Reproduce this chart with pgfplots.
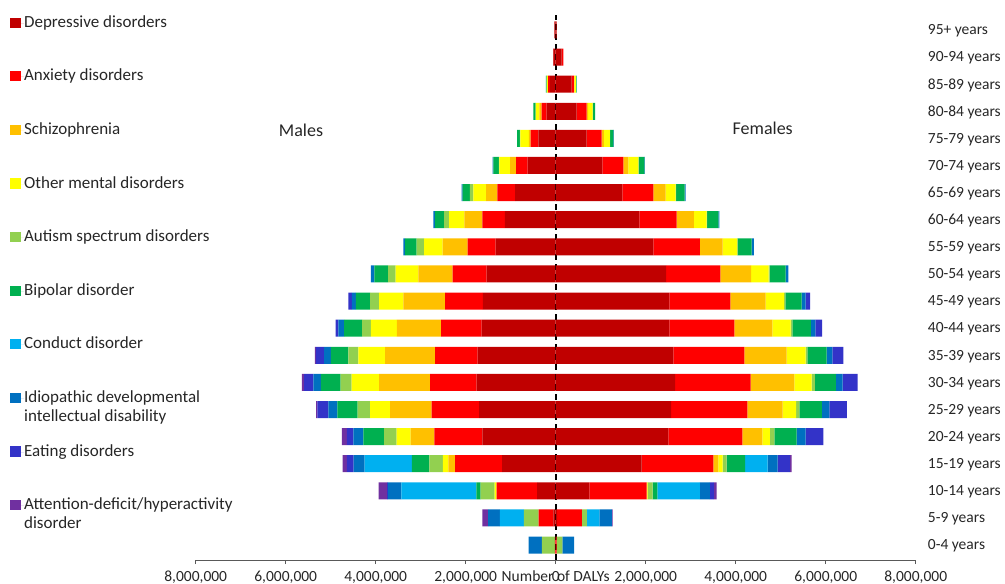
\documentclass[border=0pt]{standalone}
\usepackage{pgfplots}
\usepackage{pgfplotstable}
\pgfplotsset{compat=1.18}
\usepackage{fontspec}
\setmainfont{Carlito}

\definecolor{cdep}{HTML}{C00000}
\definecolor{canx}{HTML}{FF0000}
\definecolor{csch}{HTML}{FFC000}
\definecolor{coth}{HTML}{FFFF00}
\definecolor{caut}{HTML}{92D050}
\definecolor{cbip}{HTML}{00B050}
\definecolor{ccon}{HTML}{00B0F0}
\definecolor{cidi}{HTML}{0070C0}
\definecolor{ceat}{HTML}{3333C8}
\definecolor{cadh}{HTML}{7030A0}

% values in millions of DALYs (males negative)
\pgfplotstableread{
y dep anx sch oth aut bip con idi eat adhd
0 0 -0.02 0 0 -0.29 0 0 -0.29 0 0
1 -0.05 -0.33 0 0 -0.33 0 -0.53 -0.26 0 -0.13
2 -0.415 -0.896 -0.01 -0.037 -0.311 -0.096 -1.667 -0.296 -0.02 -0.185
3 -1.193 -1.044 -0.148 -0.124 -0.296 -0.39 -1.052 -0.244 -0.148 -0.096
4 -1.631 -1.067 -0.524 -0.311 -0.281 -0.459 0 -0.222 -0.148 -0.111
5 -1.704 -1.052 -0.926 -0.444 -0.274 -0.452 0 -0.2 -0.244 -0.03
6 -1.756 -1.037 -1.133 -0.607 -0.244 -0.444 0 -0.164 -0.207 -0.05
7 -1.733 -0.948 -1.111 -0.593 -0.222 -0.39 0 -0.148 -0.185 -0.02
8 -1.644 -0.904 -0.984 -0.578 -0.193 -0.4 0 -0.127 -0.058 0
9 -1.62 -0.838 -0.926 -0.54 -0.2 -0.318 0 -0.09 -0.074 0
10 -1.533 -0.756 -0.764 -0.502 -0.171 -0.304 0 -0.08 0 0
11 -1.333 -0.622 -0.556 -0.415 -0.163 -0.259 0 -0.037 0 0
12 -1.127 -0.504 -0.4 -0.34 -0.111 -0.2 0 -0.037 0 0
13 -0.904 -0.393 -0.252 -0.282 -0.074 -0.163 0 -0.022 0 0
14 -0.622 -0.26 -0.133 -0.238 -0.01 -0.123 0 -0.015 0 0
15 -0.387 -0.17 -0.04 -0.19 -0.01 -0.06 0 0 0 0
16 -0.2 -0.111 -0.053 -0.074 -0.01 -0.05 0 0 0 0
17 -0.127 -0.04 -0.005 -0.02 -0.01 -0.015 0 0 0 0
18 -0.05 -0.01 0 0 0 0 0 0 0 0
19 -0.03 0 0 0 0 0 0 0 0 0
}\males

\pgfplotstableread{
y dep anx sch oth aut bip con idi eat adhd
0 0 0.02 0 0 0.13 0 0 0.26 0 0
1 0.03 0.55 0 0 0.111 0 0.28 0.276 0 0.02
2 0.747 1.276 0.01 0.01 0.113 0.102 0.948 0.222 0.089 0.06
3 1.911 1.591 0.111 0.098 0.089 0.407 0.504 0.222 0.273 0.038
4 2.502 1.644 0.444 0.171 0.096 0.498 0 0.2 0.391 0
5 2.562 1.696 0.787 0.296 0.074 0.498 0 0.169 0.387 0
6 2.651 1.681 0.969 0.387 0.073 0.467 0 0.148 0.333 0
7 2.613 1.578 0.942 0.422 0.036 0.431 0 0.124 0.244 0
8 2.524 1.444 0.844 0.409 0.04 0.407 0 0.102 0.148 0
9 2.524 1.356 0.787 0.407 0.03 0.363 0 0.089 0.096 0
10 2.451 1.207 0.682 0.393 0.02 0.358 0 0.058 0 0
11 2.169 1.037 0.504 0.324 0.01 0.31 0 0.051 0 0
12 1.858 0.831 0.384 0.282 0.01 0.248 0 0.022 0 0
13 1.48 0.689 0.276 0.222 0.01 0.19 0 0.022 0 0
14 1.036 0.467 0.111 0.222 0.005 0.128 0 0.015 0 0
15 0.689 0.333 0.051 0.133 0.005 0.073 0 0.01 0 0
16 0.467 0.222 0.03 0.1 0.005 0.05 0 0 0 0
17 0.356 0.05 0.01 0.03 0 0.02 0 0 0 0
18 0.13 0.04 0 0 0 0 0 0 0 0
19 0.02 0 0 0 0 0 0 0 0 0
}\females

\pgfplotsset{
  pyr/.style={
    at={(195.7bp,24bp)}, anchor=south west,
    scale only axis, width=720bp, height=545bp,
    xmin=-8, xmax=8, ymin=-0.55, ymax=19.55,
    xbar stacked, bar width=17bp,
    every axis plot post/.append style={draw=none,
      legend image code/.code={\fill[##1] (0bp,-4.5bp) rectangle (10.5bp,5.5bp); \path (0bp,0bp) -- (14bp,0bp);}},
  },
}

\begin{document}
\begin{tikzpicture}
\useasboundingbox (0,0) rectangle (1005bp,584bp);
\begin{axis}[pyr,
  axis x line*=bottom, axis y line*=right,
  x axis line style={-, black!65, line width=0.8bp},
  y axis line style={draw=none},
  tick align=outside, major tick length=4bp,
  xtick style={black!65, line width=0.8bp},
  ytick style={draw=none},
  scaled x ticks=false,
  xtick={-8,-6,-4,-2,0,2,4,6,8},
  xticklabels={{8,000,000},{6,000,000},{4,000,000},{2,000,000},0,{2,000,000},{4,000,000},{6,000,000},{8,000,000}},
  ytick={0,...,19},
  yticklabels={0-4 years,5-9 years,10-14 years,15-19 years,20-24 years,25-29 years,30-34 years,35-39 years,40-44 years,45-49 years,50-54 years,55-59 years,60-64 years,65-69 years,70-74 years,75-79 years,80-84 years,85-89 years,90-94 years,95+ years},
  ticklabel style={font=\fontsize{15.5bp}{18bp}\selectfont, text=black!85},
  yticklabel style={anchor=west, inner sep=0pt, xshift=8bp, yshift=-1bp},
  xticklabel style={anchor=base, inner sep=0pt, yshift=-17bp},
  xlabel={Number of DALYs},
  xlabel style={at={(axis description cs:0.5,0)}, anchor=base, inner sep=0pt, yshift=-21.5bp,
    font=\fontsize{15.5bp}{18bp}\selectfont, text=black!85},
  legend cell align=left,
  legend style={at={(axis description cs:-0.258,1.0)}, anchor=north west,
    draw=none, fill=none, inner sep=0pt, row sep=37.6bp,
    font=\fontsize{17bp}{19bp}\selectfont, text=black!85,
    nodes={text height=12bp, text depth=4bp, inner sep=0pt}},
]
\addplot[fill=cdep] table[x=dep,y=y] {\males}; \addlegendentry{Depressive disorders}
\addplot[fill=canx] table[x=anx,y=y] {\males}; \addlegendentry{Anxiety disorders}
\addplot[fill=csch] table[x=sch,y=y] {\males}; \addlegendentry{Schizophrenia}
\addplot[fill=coth] table[x=oth,y=y] {\males}; \addlegendentry{Other mental disorders}
\addplot[fill=caut] table[x=aut,y=y] {\males}; \addlegendentry{Autism spectrum disorders}
\addplot[fill=cbip] table[x=bip,y=y] {\males}; \addlegendentry{Bipolar disorder}
\addplot[fill=ccon] table[x=con,y=y] {\males}; \addlegendentry{Conduct disorder}
\addplot[fill=cidi] table[x=idi,y=y] {\males}; \addlegendentry{\begin{tabular}[t]{@{}l@{}}Idiopathic developmental\\intellectual disability\end{tabular}}
\addplot[fill=ceat] table[x=eat,y=y] {\males}; \addlegendentry{Eating disorders}
\addplot[fill=cadh] table[x=adhd,y=y] {\males}; \addlegendentry{\begin{tabular}[t]{@{}l@{}}Attention-deficit/hyperactivity\\disorder\end{tabular}}
\end{axis}
\begin{axis}[pyr, hide axis]
\addplot[fill=cdep] table[x=dep,y=y] {\females};
\addplot[fill=canx] table[x=anx,y=y] {\females};
\addplot[fill=csch] table[x=sch,y=y] {\females};
\addplot[fill=coth] table[x=oth,y=y] {\females};
\addplot[fill=caut] table[x=aut,y=y] {\females};
\addplot[fill=cbip] table[x=bip,y=y] {\females};
\addplot[fill=ccon] table[x=con,y=y] {\females};
\addplot[fill=cidi] table[x=idi,y=y] {\females};
\addplot[fill=ceat] table[x=eat,y=y] {\females};
\addplot[fill=cadh] table[x=adhd,y=y] {\females};
\draw[black, line width=1.6bp, dash pattern=on 6bp off 4bp] (axis cs:0,-0.55) -- (axis cs:0,19.55);
\node[font=\fontsize{18bp}{20bp}\selectfont, text=black!85] at (axis cs:-5.66,15.31) {Males};
\node[font=\fontsize{18bp}{20bp}\selectfont, text=black!85] at (axis cs:4.6,15.38) {Females};
\end{axis}
\end{tikzpicture}
\end{document}
